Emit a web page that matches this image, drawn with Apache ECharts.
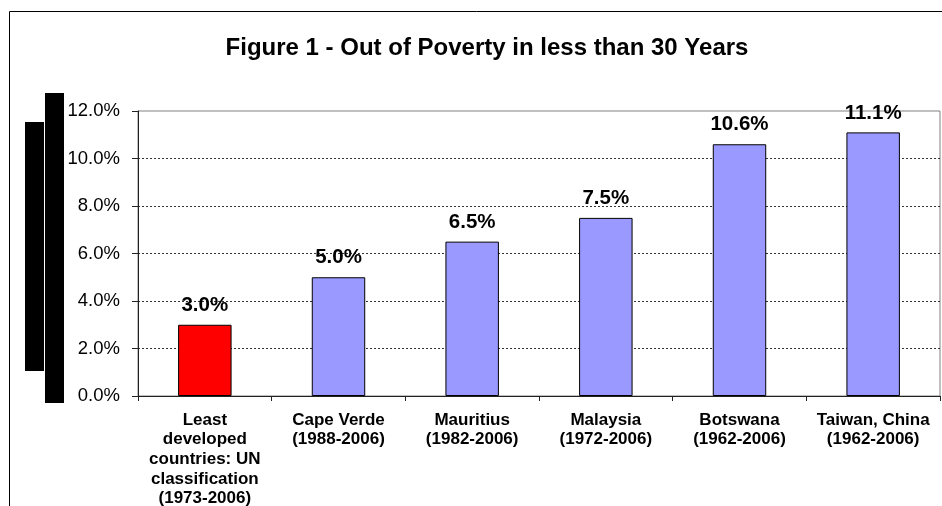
<!DOCTYPE html>
<html>
<head>
<meta charset="utf-8">
<script src="https://cdn.jsdelivr.net/npm/echarts@6/dist/echarts.min.js"></script>
<style>
html,body{margin:0;padding:0;background:#fff;}
#chart{width:942px;height:506px;}
</style>
</head>
<body>
<div id="chart"></div>
<script>
const categories = [
  "Least\ndeveloped\ncountries: UN\nclassification\n(1973-2006)",
  "Cape Verde\n(1988-2006)",
  "Mauritius\n(1982-2006)",
  "Malaysia\n(1972-2006)",
  "Botswana\n(1962-2006)",
  "Taiwan, China\n(1962-2006)"
];
const values = [3.0, 5.0, 6.5, 7.5, 10.6, 11.1];
const barColors = ["#FF0000", "#9999FF", "#9999FF", "#9999FF", "#9999FF", "#9999FF"];
const yTicks = { min: 0, max: 12, interval: 2 };
const titleText = "Figure 1 - Out of Poverty in less than 30 Years";

const FONT = "'Liberation Sans', Arial, sans-serif";
const chart = echarts.init(document.getElementById('chart'));
chart.setOption({
  animation: false,
  backgroundColor: '#fff',
  title: {
    text: titleText,
    left: 482,
    top: 31,
    textAlign: 'center',
    textStyle: { fontFamily: FONT, fontSize: 24, fontWeight: 'bold', color: '#000' }
  },
  graphic: [
    { type: 'rect', shape: { x: 9.5, y: 11.5, width: 1000, height: 1000 }, style: { fill: null, stroke: '#000', lineWidth: 1 }, z: 0 },
    { type: 'rect', shape: { x: 25, y: 122, width: 19, height: 249 }, style: { fill: '#000' }, z: 10 },
    { type: 'rect', shape: { x: 45, y: 93, width: 19, height: 310 }, style: { fill: '#000' }, z: 10 }
  ],
  grid: {
    left: 138, top: 111, right: 2, bottom: 110,
    containLabel: false,
    outerBoundsMode: 'none',
    show: true, borderColor: '#808080', borderWidth: 1, backgroundColor: 'transparent'
  },
  xAxis: {
    type: 'category',
    data: categories,
    axisLine: { lineStyle: { color: '#222', width: 1 } },
    axisTick: { show: true, length: 5, lineStyle: { color: '#222' } },
    axisLabel: {
      interval: 0, margin: 14,
      fontFamily: FONT, fontSize: 17, fontWeight: 'bold', color: '#000', lineHeight: 19.7
    }
  },
  yAxis: {
    type: 'value',
    min: yTicks.min, max: yTicks.max, interval: yTicks.interval,
    axisLine: { show: true, lineStyle: { color: '#222', width: 1 } },
    axisTick: { show: true, length: 6, inside: false, lineStyle: { color: '#222' } },
    axisLabel: {
      margin: 18,
      fontFamily: FONT, fontSize: 18.5, color: '#000',
      formatter: v => v.toFixed(1) + '%'
    },
    splitLine: {
      show: true,
      lineStyle: {
        color: ['#333', '#333', '#333', '#333', '#333', '#333', 'rgba(0,0,0,0)'],
        type: [2, 2], width: 1
      }
    }
  },
  series: [{
    type: 'bar',
    barWidth: '40%',
    data: values.map((v, i) => ({
      value: v,
      itemStyle: { color: barColors[i], borderColor: '#000', borderWidth: 1 }
    })),
    label: {
      show: true, position: 'top', distance: 9,
      fontFamily: FONT, fontSize: 20.5, fontWeight: 'bold', color: '#000',
      formatter: p => p.value.toFixed(1) + '%'
    }
  }]
});
</script>
</body>
</html>
